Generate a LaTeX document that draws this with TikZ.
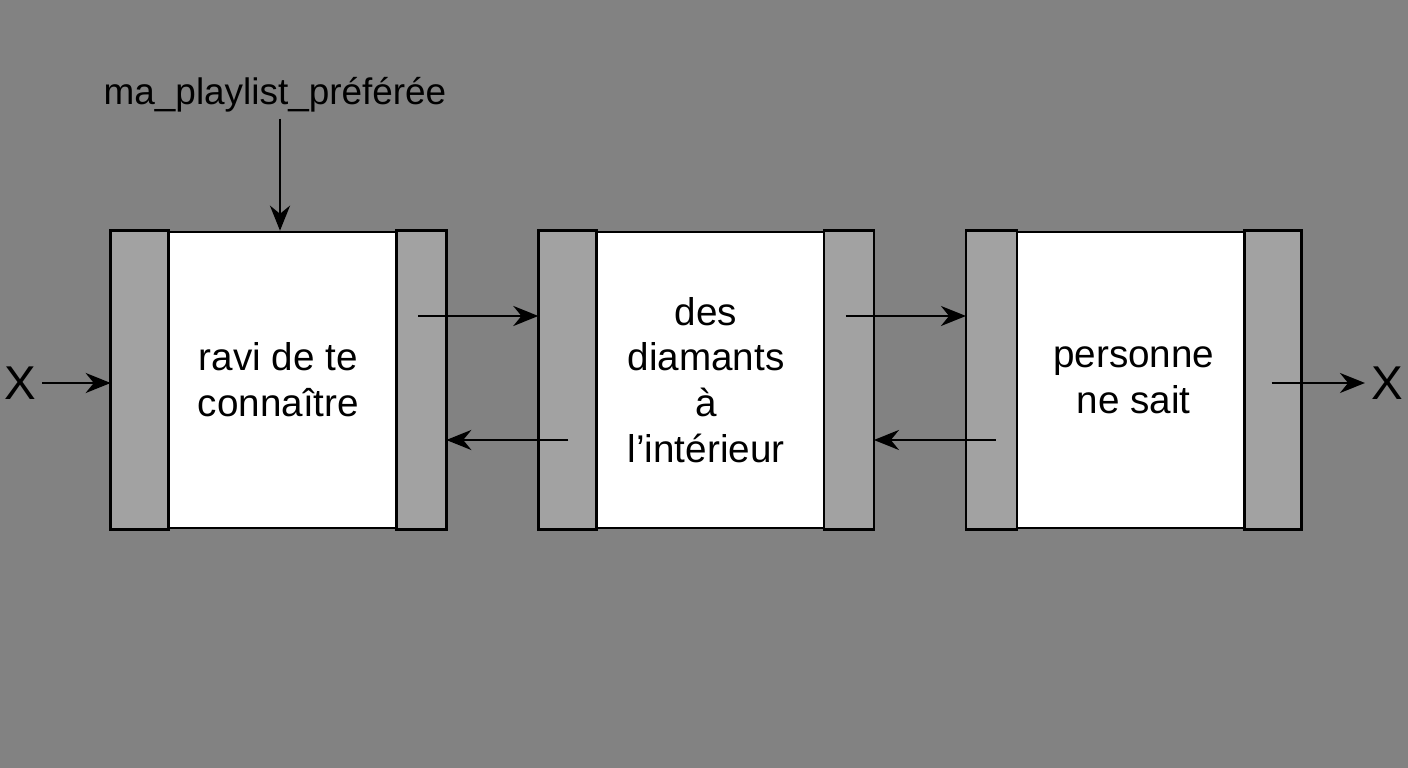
\documentclass[tikz,border=0pt]{standalone}
\usepackage{fontspec}
\setmainfont{Liberation Sans}
\usetikzlibrary{arrows.meta,positioning}
\definecolor{bggray}{HTML}{828282}
\definecolor{panelgray}{HTML}{A2A2A2}
\tikzset{
  stage/.style={draw=black,line width=1.5pt,fill=white,minimum width=6.66cm,minimum height=5.92cm,
    align=center,font=\fontsize{22}{26}\selectfont,inner sep=0pt},
  link/.style={-{Stealth[length=5mm,width=4mm]},line width=1.5pt}
}
\begin{document}
\begin{tikzpicture}
\fill[bggray] (0,0) rectangle (28.16,15.36);
\useasboundingbox (0,0) rectangle (28.16,15.36);
% the three cells
\node[stage] (b1) at (5.57,7.76) {};
\node[stage,right=1.84cm of b1] (b2) {};
\node[stage,right=1.84cm of b2] (b3) {};
\foreach \b/\l/\r in {b1/1.16/1.0,b2/1.16/1.0,b3/1.02/1.14}{
  \draw[line width=1.5pt,fill=panelgray] (\b.south west) rectangle ([xshift=\l cm]\b.north west);
  \draw[line width=1.5pt,fill=panelgray] ([xshift=-\r cm]\b.south east) rectangle (\b.north east);
}
\node[font=\fontsize{22}{26}\selectfont,align=center] (t1) at (b1) {ravi de te\\connaître};
\node[font=\fontsize{22}{26}\selectfont,align=center] (t2) at (b2) {des\\diamants\\à\\l'intérieur};
\node[font=\fontsize{22}{26}\selectfont,align=center] (t3) at (b3) {personne\\ne sait};
% forward and backward links
\draw[link] ([xshift=-0.56cm,yshift=1.28cm]b1.east) -- ([yshift=1.28cm]b2.west);
\draw[link] ([xshift=0.6cm,yshift=-1.2cm]b2.west) -- ([yshift=-1.2cm]b1.east);
\draw[link] ([xshift=-0.56cm,yshift=1.28cm]b2.east) -- ([yshift=1.28cm]b3.west);
\draw[link] ([xshift=0.6cm,yshift=-1.2cm]b3.west) -- ([yshift=-1.2cm]b2.east);
% ends
\node[font=\fontsize{27}{30}\selectfont] (xin) at (0.4,7.7) {X};
\node[font=\fontsize{27}{30}\selectfont] (xout) at (27.74,7.7) {X};
\draw[link] (xin.east) -- (b1.west |- xin.east);
\draw[link] ([xshift=-0.6cm]b3.east |- xout.west) -- (xout.west);
\node[font=\fontsize{21}{24}\selectfont] (head) at (5.5,13.46) {ma\_playlist\_préférée};
\draw[link] ([xshift=0.1cm]head.south) -- ([xshift=0.03cm]b1.north);
\end{tikzpicture}
\end{document}
